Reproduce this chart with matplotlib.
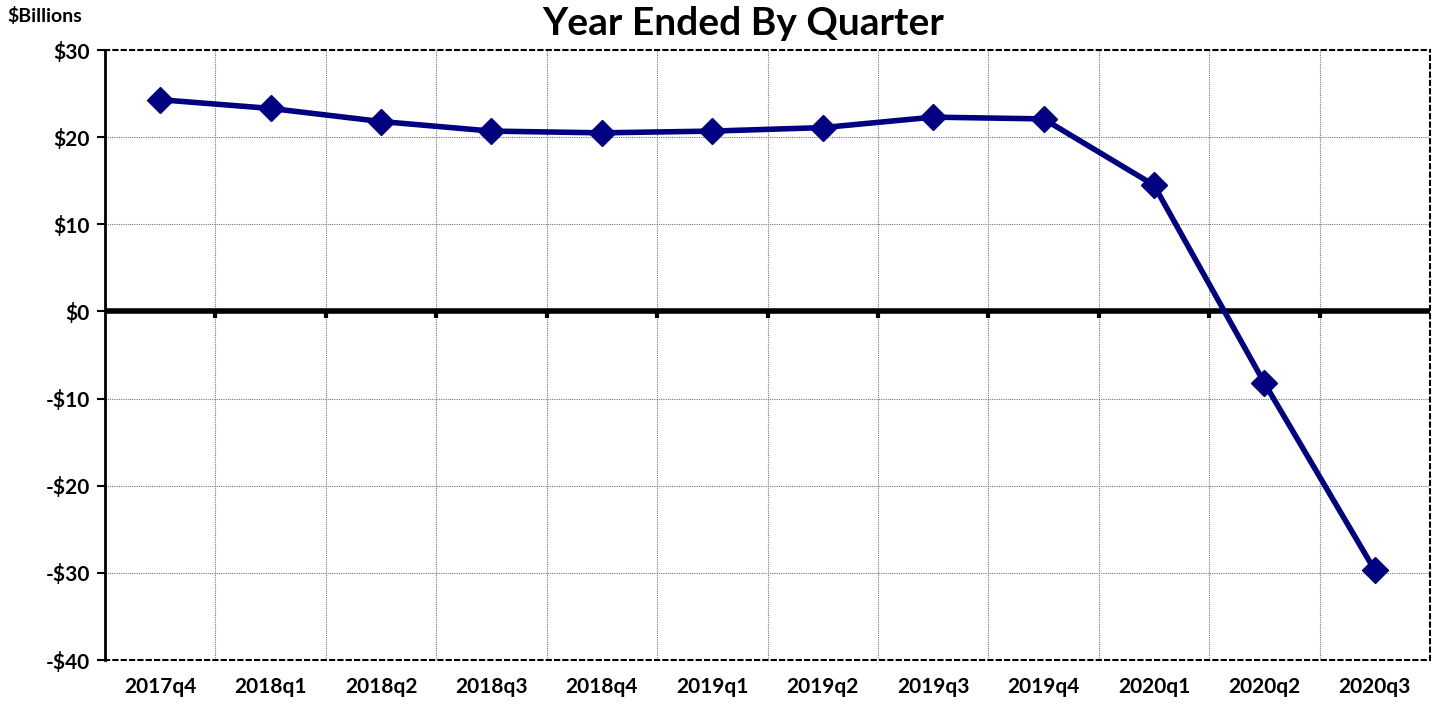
import numpy as np
import matplotlib.pyplot as plt

quarters = ['2017q4', '2018q1', '2018q2', '2018q3', '2018q4', '2019q1',
            '2019q2', '2019q3', '2019q4', '2020q1', '2020q2', '2020q3']
values = [24.3, 23.3, 21.8, 20.7, 20.5, 20.7, 21.1, 22.3, 22.1, 14.5, -8.2, -29.7]
yticks = [-40, -30, -20, -10, 0, 10, 20, 30]

plt.rcParams['font.family'] = ['Lato', 'DejaVu Sans']
plt.rcParams['font.weight'] = 'bold'

fig = plt.figure(figsize=(14.35, 7.05), dpi=100)
ax = fig.add_axes([0.0732, 0.0638, 0.9233, 0.8652])

x = np.arange(len(quarters))
ax.set_xlim(-0.5, len(quarters) - 0.5)
ax.set_ylim(-40, 30)

# grid
bounds = np.arange(0.5, len(quarters) - 0.5, 1)
for b in bounds:
    ax.axvline(b, color='#777777', lw=0.8, ls=(0, (1, 1)), zorder=1)
for t in yticks[1:-1]:
    ax.axhline(t, color='#777777', lw=0.8, ls=(0, (1, 1)), zorder=1)

ax.axhline(0, color='black', lw=4, zorder=2)
ax.plot(bounds, np.zeros(len(bounds)), ls='none', marker=3, ms=5, mew=3, color='black', zorder=2)

ax.plot(x, values, color='#000080', lw=4, marker='D', ms=13, zorder=3)

for side in ['top', 'right', 'bottom']:
    ax.spines[side].set_linestyle((0, (2, 2)))
    ax.spines[side].set_linewidth(1.5)
ax.spines['left'].set_linewidth(2)

ax.set_xticks(x)
ax.set_xticklabels(quarters, fontsize=15, fontweight='bold')
ax.tick_params(axis='x', length=0, pad=12)
ax.set_yticks(yticks)
ax.set_yticklabels([('-$%d' % -t) if t < 0 else ('$%d' % t) for t in yticks],
                   fontsize=15, fontweight='bold')
ax.tick_params(axis='y', length=6, width=1.5, direction='out', pad=5)

fig.text(0.518, 0.966, 'Year Ended By Quarter', ha='center', va='center',
         fontsize=28, fontweight='bold')
fig.text(0.005, 0.978, '$Billions', ha='left', va='center', fontsize=14, fontweight='bold')

plt.savefig('out.png', dpi=100)
